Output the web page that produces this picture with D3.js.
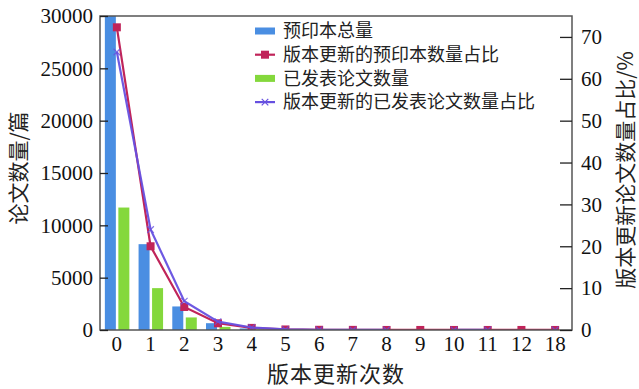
<!DOCTYPE html>
<html>
<head>
<meta charset="utf-8">
<script src="https://cdn.jsdelivr.net/npm/d3@7"></script>
<style>
  body { margin: 0; background: #fff; }
</style>
</head>
<body>
<div id="chart"></div>
<script>
// data
const categories = ['0', '1', '2', '3', '4', '5', '6', '7', '8', '9', '10', '11', '12', '18']
const preprintTotal = [30000, 8200, 2250, 650, 150, 40, 15, 8, 4, 2, 2, 1, 1, 1]
const publishedTotal = [11700, 4000, 1200, 300, 60, 15, 6, 3, 2, 1, 1, 0, 0, 0]
const preprintShare = [72.3, 20.0, 5.5, 1.6, 0.5, 0.13, 0.05, 0.03, 0.01, 0.01, 0.01, 0.01, 0.01, 0.01]
const publishedShare = [66.4, 24.0, 6.9, 2.0, 0.6, 0.14, 0.05, 0.03, 0.01, null, 0.01, 0.01, null, 0.01]
const leftTicks = [0, 5000, 10000, 15000, 20000, 25000, 30000]
const rightTicks = [0, 10, 20, 30, 40, 50, 60, 70]

const width = 639
const height = 389
const margin = { top: 16, right: 67, bottom: 59, left: 100 }
const x0 = margin.left
const x1 = width - margin.right
const y0 = height - margin.bottom
const y1 = margin.top

const serif = "'Liberation Serif', 'DejaVu Serif', serif"
const cjk = "'Noto Sans CJK SC', sans-serif"

const colors = {
  blueBar: '#4a8ee2',
  greenBar: '#84d83c',
  red: '#c0245a',
  purple: '#6650e0'
}

const svg = d3.select('#chart')
  .append('svg')
  .attr('width', width)
  .attr('height', height)
  .attr('viewBox', [0, 0, width, height])

const x = d3.scaleBand().domain(categories).range([x0, x1]).padding(0)
const yL = d3.scaleLinear().domain([0, 30000]).range([y0, y1])
const yR = d3.scaleLinear().domain([0, 75]).range([y0, y1])

const cx = d => x(d) + x.bandwidth() / 2

svg.append('defs').append('clipPath').attr('id', 'clip')
  .append('rect').attr('x', x0).attr('y', y1).attr('width', x1 - x0).attr('height', y0 - y1)

const plot = svg.append('g').attr('clip-path', 'url(#clip)')

// bars
plot.selectAll('.bar-pre')
  .data(categories)
  .enter()
  .append('rect')
  .attr('x', d => cx(d) - 12)
  .attr('width', 11)
  .attr('y', (d, i) => yL(preprintTotal[i]))
  .attr('height', (d, i) => y0 - yL(preprintTotal[i]))
  .style('fill', colors.blueBar)

plot.selectAll('.bar-pub')
  .data(categories)
  .enter()
  .append('rect')
  .attr('x', d => cx(d) + 1.5)
  .attr('width', 11)
  .attr('y', (d, i) => yL(publishedTotal[i]))
  .attr('height', (d, i) => y0 - yL(publishedTotal[i]))
  .style('fill', colors.greenBar)

// share lines
const lineR = d3.line()
  .defined(d => d.v !== null)
  .x(d => cx(d.c))
  .y(d => yR(d.v))

const redData = categories.map((c, i) => ({ c, v: preprintShare[i] }))
const purpleData = categories.map((c, i) => ({ c, v: publishedShare[i] }))

plot.append('path')
  .datum(redData)
  .attr('d', lineR)
  .attr('fill', 'none')
  .attr('stroke', colors.red)
  .attr('stroke-width', 2.2)

plot.selectAll('.sq')
  .data(redData)
  .enter()
  .append('rect')
  .attr('x', d => cx(d.c) - 4)
  .attr('y', d => yR(d.v) - 4)
  .attr('width', 8)
  .attr('height', 8)
  .style('fill', colors.red)

plot.append('path')
  .datum(purpleData)
  .attr('d', lineR)
  .attr('fill', 'none')
  .attr('stroke', colors.purple)
  .attr('stroke-width', 2.2)
  .attr('opacity', 0.95)

const xMark = d3.symbol().type(d3.symbolX).size(30)
plot.selectAll('.xm')
  .data(purpleData.filter(d => d.v !== null))
  .enter()
  .append('path')
  .attr('d', xMark)
  .attr('transform', d => `translate(${cx(d.c)},${yR(d.v)})`)
  .attr('fill', 'none')
  .attr('stroke', colors.purple)
  .attr('stroke-width', 1.2)
  .attr('opacity', 0.8)

// frame
svg.append('rect')
  .attr('x', x0).attr('y', y1)
  .attr('width', x1 - x0).attr('height', y0 - y1)
  .attr('fill', 'none')
  .attr('stroke', '#555')
  .attr('stroke-width', 1.5)

// axes
const axisL = svg.append('g')
  .attr('transform', `translate(${x0},0)`)
  .call(d3.axisLeft(yL).tickValues(leftTicks).tickFormat(d3.format('d')).tickSizeInner(-8).tickSizeOuter(0).tickPadding(7))
axisL.select('.domain').remove()
axisL.selectAll('line').attr('stroke', '#222').attr('stroke-width', 1.3)
axisL.selectAll('text').style('font-size', '21px').style('font-family', serif).attr('fill', '#111')

const axisR = svg.append('g')
  .attr('transform', `translate(${x1},0)`)
  .call(d3.axisRight(yR).tickValues(rightTicks).tickSizeInner(-12).tickSizeOuter(0).tickPadding(9))
axisR.select('.domain').remove()
axisR.selectAll('line').attr('stroke', '#222').attr('stroke-width', 1.3)
axisR.selectAll('text').style('font-size', '21px').style('font-family', serif).attr('fill', '#111')

const axisB = svg.append('g')
  .attr('transform', `translate(0,${y0})`)
  .call(d3.axisBottom(x).tickSize(0).tickPadding(6))
axisB.select('.domain').remove()
axisB.selectAll('text').style('font-size', '21px').style('font-family', serif).attr('fill', '#111')

// axis titles
svg.append('text')
  .attr('transform', `translate(26,168) rotate(-90)`)
  .attr('text-anchor', 'middle')
  .style('font-family', cjk)
  .style('font-size', '21px')
  .attr('fill', '#222')
  .text('论文数量/篇')

svg.append('text')
  .attr('transform', `translate(633,170) rotate(-90)`)
  .attr('text-anchor', 'middle')
  .style('font-family', cjk)
  .style('font-size', '21px')
  .attr('fill', '#222')
  .text('版本更新论文数量占比/%')

svg.append('text')
  .attr('x', (x0 + x1) / 2)
  .attr('y', 382)
  .attr('text-anchor', 'middle')
  .style('font-family', cjk)
  .style('font-size', '22px')
  .style('letter-spacing', '1px')
  .attr('fill', '#222')
  .text('版本更新次数')

// legend
const legendItems = [
  { label: '预印本总量', type: 'bar', color: colors.blueBar },
  { label: '版本更新的预印本数量占比', type: 'sq', color: colors.red },
  { label: '已发表论文数量', type: 'bar', color: colors.greenBar },
  { label: '版本更新的已发表论文数量占比', type: 'x', color: colors.purple }
]

const legend = svg.append('g').attr('transform', 'translate(255,31)')
const rows = legend.selectAll('g')
  .data(legendItems)
  .enter()
  .append('g')
  .attr('transform', (d, i) => `translate(0,${i * 23.7})`)

rows.filter(d => d.type === 'bar')
  .append('rect')
  .attr('x', 0).attr('y', -3.5).attr('width', 20).attr('height', 7)
  .style('fill', d => d.color)

rows.filter(d => d.type !== 'bar')
  .append('line')
  .attr('x1', 0).attr('x2', 20).attr('y1', 0).attr('y2', 0)
  .attr('stroke', d => d.color).attr('stroke-width', 2.2)

rows.filter(d => d.type === 'sq')
  .append('rect')
  .attr('x', 6).attr('y', -4).attr('width', 8).attr('height', 8)
  .style('fill', d => d.color)

rows.filter(d => d.type === 'x')
  .append('path')
  .attr('d', xMark)
  .attr('transform', 'translate(10,0)')
  .attr('fill', 'none')
  .attr('stroke', d => d.color)
  .attr('stroke-width', 1.2)

rows.append('text')
  .attr('x', 28)
  .attr('y', 0)
  .attr('dy', '0.35em')
  .style('font-family', cjk)
  .style('font-size', '18px')
  .attr('fill', '#222')
  .text(d => d.label)
</script>
</body>
</html>
